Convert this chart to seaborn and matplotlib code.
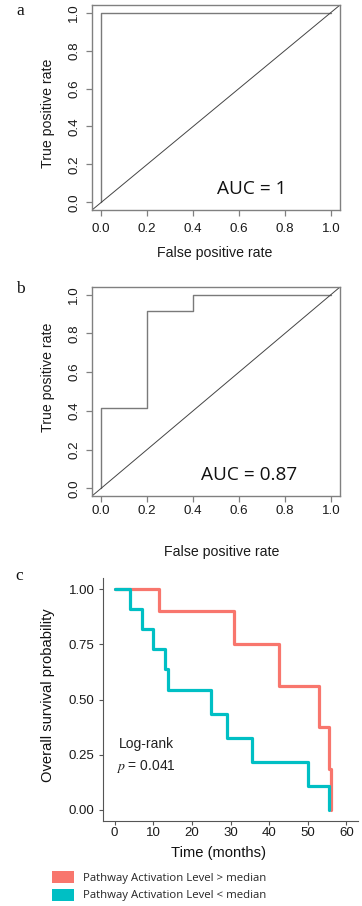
import matplotlib
matplotlib.use("Agg")
import matplotlib.pyplot as plt
import seaborn as sns
import pandas as pd
from matplotlib.patches import Patch

sns.set_style("white")
plt.rcParams["font.family"] = ["Liberation Sans", "DejaVu Sans"]
plt.rcParams["mathtext.fontset"] = "stix"

# ---- data ----
fpr_a = [0.0, 0.0, 1.0]
tpr_a = [0.0, 1.0, 1.0]
auc_a = "AUC = 1"

fpr_b = [0.0, 0.0, 0.2, 0.2, 0.4, 0.4, 1.0]
tpr_b = [0.0, 0.417, 0.417, 0.917, 0.917, 1.0, 1.0]
auc_b = "AUC = 0.87"

roc_ticks = [0.0, 0.2, 0.4, 0.6, 0.8, 1.0]
roc_ticklabels = ["0.0", "0.2", "0.4", "0.6", "0.8", "1.0"]

high_label = "Pathway Activation Level > median"
low_label = "Pathway Activation Level < median"
time_high = [0, 11.6, 31.0, 42.6, 52.8, 55.4, 56.0]
surv_high = [1.0, 0.9, 0.75, 0.5625, 0.375, 0.1875, 0.0]
time_low = [0, 4.0, 7.0, 9.9, 13.0, 13.8, 25.0, 29.0, 35.5, 50.0, 55.6]
surv_low = [1.0, 0.909, 0.818, 0.727, 0.636, 0.545, 0.436, 0.327, 0.218, 0.109, 0.0]
km_xticks = [0, 10, 20, 30, 40, 50, 60]
km_yticks = [0.0, 0.25, 0.5, 0.75, 1.0]
km_yticklabels = ["0.00", "0.25", "0.50", "0.75", "1.00"]
colors = {high_label: "#F8766D", low_label: "#00BFC4"}

W, H = 362, 906
fig = plt.figure(figsize=(W / 100, H / 100), dpi=100)


def px_axes(left, top, right, bottom):
    return fig.add_axes([left / W, 1 - bottom / H, (right - left) / W, (bottom - top) / H])


def roc_panel(ax, fpr, tpr, auc_text, auc_x, ylab_y, xlab_x, xlab_y, xpad):
    df = pd.DataFrame({"fpr": fpr, "tpr": tpr})
    sns.lineplot(data=df, x="fpr", y="tpr", ax=ax, estimator=None, sort=False,
                 color="#7a7a7a", linewidth=1.0)
    ax.axline((0, 0), (1, 1), color="#444444", linewidth=0.7)
    ax.set_xlim(-0.04, 1.04)
    ax.set_ylim(-0.04, 1.04)
    ax.set_xticks(roc_ticks, roc_ticklabels)
    ax.set_yticks(roc_ticks, roc_ticklabels)
    for s in ax.spines.values():
        s.set_color("#808080")
        s.set_linewidth(1.0)
        s.set_visible(True)
    ax.tick_params(axis="both", direction="out", length=4.5, width=0.9, color="#808080",
                   labelsize=9.6, labelcolor="#1a1a1a")
    ax.tick_params(axis="x", pad=xpad, bottom=True)
    ax.tick_params(axis="y", pad=4.0, left=True)
    for lab in ax.get_yticklabels():
        lab.set_rotation(90)
        lab.set_va("center")
    ax.set_xlabel("False positive rate", fontsize=10.2, color="#1a1a1a")
    ax.set_ylabel("True positive rate", fontsize=10.2, color="#1a1a1a")
    ax.xaxis.label.set_va("center")
    ax.yaxis.label.set_va("center")
    ax.xaxis.set_label_coords(xlab_x, xlab_y)
    ax.yaxis.set_label_coords(-0.177, ylab_y)
    ax.text(auc_x, 0.07, auc_text, fontsize=13.7, family=["Open Sans", "DejaVu Sans"],
            va="center", ha="left", color="#111111")


ax_a = px_axes(92, 5, 340, 210)
roc_panel(ax_a, fpr_a, tpr_a, auc_a, 0.505, 0.473, 0.496, -0.21, 5.0)
ax_b = px_axes(92, 287, 340, 496)
roc_panel(ax_b, fpr_b, tpr_b, auc_b, 0.435, 0.567, 0.524, -0.268, 2.0)

# ---- panel c ----
ax_c = px_axes(103, 578, 358, 821)
km = pd.concat([
    pd.DataFrame({"time": time_high, "surv": surv_high, "group": high_label}),
    pd.DataFrame({"time": time_low, "surv": surv_low, "group": low_label}),
], ignore_index=True)
sns.lineplot(data=km, x="time", y="surv", hue="group", hue_order=[high_label, low_label],
             palette=colors, estimator=None, sort=False, drawstyle="steps-post",
             linewidth=2.3, legend=False, ax=ax_c)
ax_c.set_xlim(-3, 63)
ax_c.set_ylim(-0.05, 1.05)
ax_c.set_xticks(km_xticks, [str(t) for t in km_xticks])
ax_c.set_yticks(km_yticks, km_yticklabels)
sns.despine(ax=ax_c)
for side in ["left", "bottom"]:
    ax_c.spines[side].set_color("#555555")
    ax_c.spines[side].set_linewidth(0.8)
ax_c.tick_params(axis="both", direction="out", length=3, width=0.8, color="#555555",
                 labelsize=9.5, labelcolor="#1a1a1a", bottom=True, left=True)
ax_c.tick_params(axis="x", pad=1.5)
ax_c.tick_params(axis="y", pad=3)
ax_c.set_xlabel("Time (months)", fontsize=10.6, color="#111111")
ax_c.set_ylabel("Overall survival probability", fontsize=10.6, color="#111111")
ax_c.xaxis.label.set_va("center")
ax_c.yaxis.label.set_va("center")
ax_c.xaxis.set_label_coords(0.452, -0.13)
ax_c.yaxis.set_label_coords(-0.216, 0.519)
ax_c.text(1.0, 0.30, "Log-rank", fontsize=10.0, color="#222222", va="center", ha="left")
ax_c.text(0.4, 0.195, "$p$ = 0.041", fontsize=10.0, color="#222222", va="center", ha="left")

handles = [Patch(facecolor=colors[high_label], edgecolor="none", label=high_label),
           Patch(facecolor=colors[low_label], edgecolor="none", label=low_label)]
fs_leg = 8.2
fig.legend(handles=handles, loc="upper left", bbox_to_anchor=(52 / W, 1 - 871 / H),
           frameon=False, borderpad=0, borderaxespad=0,
           prop={"family": ["Open Sans", "DejaVu Sans"], "size": fs_leg},
           handlelength=1.93, handleheight=1.25, handletextpad=0.8, labelspacing=0.42)

# ---- panel letters ----
for letter, (x, y) in {"a": (20, 11), "b": (20, 289), "c": (19, 576)}.items():
    fig.text(x / W, 1 - y / H, letter, fontsize=12.5, family=["Liberation Serif", "DejaVu Serif"],
             ha="center", va="center", color="#111111")

fig.savefig("out.png", dpi=100)
